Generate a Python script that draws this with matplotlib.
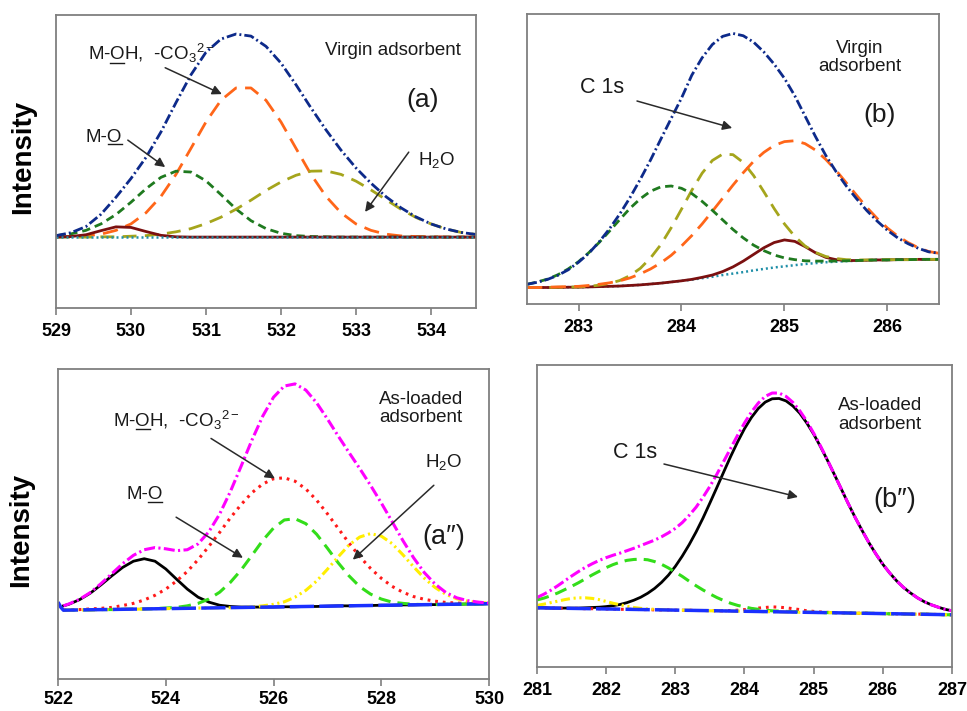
import numpy as np
import matplotlib
matplotlib.use('Agg')
import matplotlib.pyplot as plt
from matplotlib.lines import Line2D

plt.rcParams['font.family'] = ['Liberation Sans', 'DejaVu Sans']
plt.rcParams['mathtext.fontset'] = 'custom'
plt.rcParams['mathtext.rm'] = 'Liberation Sans'
plt.rcParams['mathtext.it'] = 'Liberation Sans:italic'
plt.rcParams['mathtext.bf'] = 'Liberation Sans:bold'

# intensities in arbitrary units (0-1000 full scale)
# (a) O 1s, virgin adsorbent
energy_a = np.round(np.arange(529.0, 534.61, 0.2), 2)
envelope_a = [247, 257, 278, 320, 378, 442, 514, 601, 701, 796, 873, 918, 935, 928, 893, 836, 762, 683, 608, 539,
              478, 426, 380, 342, 311, 287, 270, 258, 251]
orange_a = [243, 244, 246, 252, 265, 287, 325, 381, 456, 545, 635, 709, 751, 751, 709, 635, 545, 456, 381, 325,
            287, 265, 252, 246, 244, 243, 242, 242, 242]
green_a = [247, 253, 265, 287, 319, 361, 407, 446, 467, 464, 434, 387, 338, 298, 271, 255, 247, 244, 243, 242,
           242, 242, 242, 242, 242, 242, 242, 242, 242]
olive_a = [242, 242, 242, 243, 243, 245, 247, 252, 260, 271, 288, 310, 337, 368, 401, 430, 453, 467, 468, 456,
           433, 403, 370, 337, 309, 287, 270, 258, 251]
brown_a = [242, 244, 250, 264, 277, 275, 261, 248, 243, 242, 242, 242, 242, 242, 242, 242, 242, 242, 242, 242,
           242, 242, 242, 242, 242, 242, 242, 242, 242]
base_energy_a = [529.0, 534.6]
base_a = [242, 242]

# (b) C 1s, virgin adsorbent
energy_b = np.round(np.arange(282.5, 286.51, 0.1), 2)
envelope_b = [68, 75, 85, 99, 118, 144, 175, 214, 259, 310, 367, 430, 497, 569, 640, 710, 789, 849, 895, 923,
              933, 925, 903, 869, 827, 778, 718, 648, 578, 513, 457, 407, 363, 322, 286, 254, 228, 208, 192, 180,
              175]
green_b = [68, 76, 86, 101, 121, 146, 177, 212, 251, 291, 330, 363, 389, 404, 407, 399, 381, 354, 323, 290,
           257, 228, 203, 184, 169, 159, 153, 149, 148, 148, 148, 149, 150, 151, 152, 152, 153, 153, 154, 154,
           154]
olive_b = [57, 57, 57, 58, 58, 59, 61, 65, 71, 81, 98, 123, 159, 205, 263, 327, 392, 451, 495, 517,
           515, 488, 443, 387, 329, 276, 233, 200, 178, 164, 157, 153, 152, 152, 152, 153, 153, 153, 154, 154,
           154]
orange_b = [57, 57, 58, 59, 60, 61, 64, 68, 73, 80, 90, 104, 121, 142, 168, 200, 236, 276, 320, 365,
            410, 453, 492, 523, 547, 560, 563, 553, 531, 499, 461, 418, 375, 333, 295, 262, 234, 212, 194, 181,
            175]
brown_b = [57, 57, 57, 57, 58, 58, 59, 60, 61, 62, 64, 66, 69, 72, 76, 80, 85, 92, 100, 112,
           128, 148, 171, 194, 212, 221, 216, 198, 177, 161, 153, 150, 150, 151, 152, 152, 153, 153, 154, 154,
           154]
base_b = [57, 57, 57, 57, 58, 58, 59, 60, 61, 62, 64, 66, 69, 72, 76, 80, 84, 89, 94, 100,
          105, 110, 116, 121, 126, 130, 134, 138, 141, 144, 146, 148, 149, 151, 152, 152, 153, 153, 154, 154,
          154]

# (a'') O 1s, as-loaded adsorbent
energy_c = np.round(np.concatenate([[522.1], np.arange(522.2, 530.01, 0.2)]), 2)
envelope_c = [236, 242, 257, 279, 308, 340, 372, 399, 417, 424, 420, 414, 417, 436, 475, 532, 605, 687, 771, 848,
              909, 945, 952, 932, 891, 839, 784, 731, 679, 625, 568, 508, 447, 391, 343, 306, 279, 262, 253, 248,
              245]
black_c = [236, 241, 256, 277, 304, 333, 360, 380, 388, 380, 355, 322, 290, 264, 248, 238, 234, 232, 232, 232,
           232, 233, 233, 234, 234, 235, 236, 236, 237, 237, 238, 238, 239, 239, 240, 240, 241, 241, 242, 242,
           243]
red_c = [222, 223, 224, 226, 228, 231, 237, 244, 255, 270, 290, 316, 347, 385, 428, 473, 520, 563, 601, 629,
         646, 649, 638, 613, 577, 533, 486, 439, 395, 357, 325, 299, 280, 266, 257, 251, 247, 245, 244, 243,
         243]
green_c = [222, 222, 223, 223, 224, 224, 225, 226, 226, 227, 229, 231, 236, 244, 258, 280, 312, 352, 399, 447,
           487, 513, 517, 501, 467, 422, 375, 333, 298, 274, 258, 248, 244, 241, 240, 240, 241, 241, 242, 242,
           243]
yellow_c = [222, 222, 223, 223, 224, 224, 225, 225, 226, 227, 227, 228, 228, 229, 229, 230, 230, 231, 233, 236,
            241, 249, 264, 286, 316, 354, 394, 432, 458, 469, 461, 437, 401, 362, 325, 295, 273, 259, 251, 247,
            245]
base_energy_c = [522.0, 522.05, 522.1, 530.0]
base_c = [248, 232, 222, 243]

# (b'') C 1s, as-loaded adsorbent
energy_d = np.round(np.arange(281.0, 287.01, 0.1), 2)
envelope_d = [230, 241, 254, 269, 285, 301, 316, 330, 342, 353, 362, 370, 377, 385, 393, 402, 411, 420, 431, 444,
              459, 478, 502, 529, 562, 598, 638, 681, 724, 767, 808, 844, 874, 896, 907, 907, 896, 876, 848, 814,
              774, 731, 685, 637, 589, 541, 495, 452, 411, 374, 340, 311, 285, 263, 245, 229, 216, 206, 198, 191,
              186]
black_d = [196, 196, 195, 195, 195, 195, 195, 196, 197, 198, 200, 203, 207, 213, 221, 231, 244, 260, 280, 304,
           333, 367, 405, 447, 493, 543, 594, 646, 697, 745, 789, 826, 856, 877, 888, 889, 881, 864, 840, 808,
           771, 729, 684, 637, 589, 541, 495, 452, 411, 374, 340, 311, 285, 263, 245, 229, 216, 206, 198, 191,
           186]
green_d = [222, 228, 236, 245, 256, 267, 279, 292, 305, 317, 329, 339, 347, 353, 356, 357, 355, 349, 340, 328,
           314, 300, 284, 269, 255, 242, 230, 220, 211, 204, 199, 194, 191, 188, 186, 185, 184, 183, 182, 181,
           181, 180, 180, 180, 179, 179, 178, 178, 178, 177, 177, 176, 176, 176, 175, 175, 175, 174, 174, 173,
           173]
yellow_d = [204, 208, 213, 218, 223, 227, 229, 229, 227, 223, 217, 211, 206, 201, 197, 194, 192, 191, 190, 189,
            188, 188, 188, 187, 187, 186, 186, 186, 185, 185, 185, 184, 184, 183, 183, 183, 182, 182, 181, 181,
            181, 180, 180, 180, 179, 179, 178, 178, 178, 177, 177, 176, 176, 176, 175, 175, 175, 174, 174, 173,
            173]
red_d = [196, 196, 195, 195, 194, 194, 194, 193, 193, 193, 192, 192, 191, 191, 191, 190, 190, 189, 189, 189,
         188, 188, 188, 187, 187, 187, 186, 186, 187, 188, 190, 192, 195, 197, 199, 198, 196, 193, 190, 186,
         184, 182, 181, 180, 179, 179, 178, 178, 178, 177, 177, 176, 176, 176, 175, 175, 175, 174, 174, 173,
         173]
base_energy_d = [281.0, 287.0]
base_d = [196, 173]

TXT = '#1a1a1a'
ARROW = '#2a2a2a'
FRAME = '#7f7f7f'

fig = plt.figure(figsize=(9.67, 7.11), dpi=100)
ax_a = fig.add_axes([0.0579, 0.5668, 0.4343, 0.4121])
ax_b = fig.add_axes([0.5450, 0.5724, 0.4260, 0.4079])
ax_c = fig.add_axes([0.0600, 0.0450, 0.4457, 0.4360])
ax_d = fig.add_axes([0.5553, 0.0619, 0.4292, 0.4248])

dashdot = (0, (3.6, 1.1, 0.7, 1.1))

# (a)
ax_a.plot(energy_a, orange_a, color='#ff6619', lw=2, ls=(0, (5.5, 3)))
ax_a.plot(energy_a, green_a, color='#1f7a1f', lw=2, ls=(0, (3, 1.8)))
ax_a.plot(energy_a, olive_a, color='#a5a51c', lw=2, ls=(0, (5, 3)))
ax_a.plot(energy_a, brown_a, color='#7b1010', lw=2)
ax_a.plot(base_energy_a, base_a, color='#1f8fa8', lw=1.8, ls=(0, (0.8, 1.2)))
ax_a.plot(energy_a, envelope_a, color='#0d2a8a', lw=2, ls=dashdot)

# (b)
ax_b.plot(energy_b, base_b, color='#1f8fa8', lw=1.8, ls=(0, (0.8, 1.2)))
ax_b.plot(energy_b, brown_b, color='#7b1010', lw=2)
ax_b.plot(energy_b, olive_b, color='#a5a51c', lw=2, ls=(0, (5, 3)))
ax_b.plot(energy_b, orange_b, color='#ff6619', lw=2, ls=(0, (5.5, 3)))
ax_b.plot(energy_b, green_b, color='#1f7a1f', lw=2, ls=(0, (3, 1.8)))
ax_b.plot(energy_b, envelope_b, color='#0d2a8a', lw=2, ls=dashdot)

# (a'')
ax_c.plot(energy_c, black_c, color='black', lw=2)
ax_c.plot(energy_c, red_c, color='#ff1a1a', lw=2.2, ls=(0, (0.9, 1.6)))
ax_c.plot(energy_c, green_c, color='#33dd1a', lw=2.2, ls=(0, (4, 2.3)))
ax_c.plot(energy_c, yellow_c, color='#ffee00', lw=2.2, ls=(0, (3, 1.2, 0.7, 1.2, 0.7, 1.2)))
ax_c.plot(base_energy_c, base_c, color='#1a30ff', lw=2.5, ls=(0, (7, 1.5)))
ax_c.plot(energy_c, envelope_c, color='#ff00ff', lw=2.2, ls=dashdot)

# (b'')
ax_d.plot(energy_d, black_d, color='black', lw=2)
ax_d.plot(energy_d, red_d, color='#ff1a1a', lw=2.2, ls=(0, (0.9, 1.6)))
ax_d.plot(energy_d, green_d, color='#33dd1a', lw=2.2, ls=(0, (4, 2.3)))
ax_d.plot(energy_d, yellow_d, color='#ffee00', lw=2.2, ls=(0, (3, 1.2, 0.7, 1.2, 0.7, 1.2)))
ax_d.plot(base_energy_d, base_d, color='#1a30ff', lw=2.5, ls=(0, (7, 1.5)))
ax_d.plot(energy_d, envelope_d, color='#ff00ff', lw=2.2, ls=dashdot)

limits = {ax_a: (529, 534.6), ax_b: (282.5, 286.5), ax_c: (522, 530), ax_d: (281, 287)}
ticks = {ax_a: range(529, 535), ax_b: range(283, 287), ax_c: range(522, 531, 2), ax_d: range(281, 288)}
for ax in (ax_a, ax_b, ax_c, ax_d):
    ax.set_xlim(*limits[ax])
    ax.set_ylim(0, 1000)
    ax.set_xticks(list(ticks[ax]))
    ax.set_yticks([])
    for s in ax.spines.values():
        s.set_color(FRAME)
        s.set_linewidth(1.3)
    ax.tick_params(axis='x', direction='out', length=5, width=1.2, color=FRAME,
                   pad=3.5 if ax is ax_c else 6, labelsize=13, labelcolor='black')
    for lab in ax.get_xticklabels():
        lab.set_fontweight('bold')

fig.text(0.0238, 0.779, 'Intensity', rotation=90, fontsize=20, fontweight='bold', ha='center', va='center')
fig.text(0.0217, 0.2546, 'Intensity', rotation=90, fontsize=20, fontweight='bold', ha='center', va='center')


def note(ax, x, y, s, size=13.5, **kw):
    kw.setdefault('ha', 'left')
    kw.setdefault('va', 'center')
    ax.text(x, y, s, transform=ax.transAxes, fontsize=size, color=TXT, **kw)


def arrow(ax, tail, tip):
    ax.annotate('', xy=tip, xytext=tail, xycoords='axes fraction', textcoords='axes fraction',
                arrowprops=dict(arrowstyle='-|>', color=ARROW, lw=1.1, mutation_scale=14,
                                shrinkA=0, shrinkB=0))


underlines = []


def species(ax, x, y, head, mid, tail, size=13.5):
    ax.text(x, y, head + mid + tail, transform=ax.transAxes, fontsize=size, color=TXT,
            ha='left', va='baseline')
    underlines.append((ax, x, y, head, mid, size))


# (a)
species(ax_a, 0.076, 0.846, 'M-', 'O', 'H,  -CO$_3$$^{2-}$')
species(ax_a, 0.071, 0.567, 'M-', 'O', '')
note(ax_a, 0.640, 0.880, 'Virgin adsorbent')
note(ax_a, 0.862, 0.505, 'H$_2$O')
note(ax_a, 0.874, 0.710, '(a)', size=19, ha='center')
arrow(ax_a, (0.260, 0.820), (0.395, 0.730))
arrow(ax_a, (0.171, 0.573), (0.260, 0.481))
arrow(ax_a, (0.840, 0.532), (0.736, 0.328))

# (b)
note(ax_b, 0.808, 0.850, 'Virgin\nadsorbent', ha='center', multialignment='center', linespacing=1.1)
note(ax_b, 0.129, 0.748, 'C 1s', size=15.5)
note(ax_b, 0.856, 0.652, '(b)', size=19, ha='center')
arrow(ax_b, (0.267, 0.700), (0.498, 0.607))

# (a'')
species(ax_c, 0.128, 0.814, 'M-', 'O', 'H,  -CO$_3$$^{2-}$')
species(ax_c, 0.158, 0.580, 'M-', 'O', '')
note(ax_c, 0.842, 0.873, 'As-loaded\nadsorbent', ha='center', multialignment='center', linespacing=1.1)
note(ax_c, 0.852, 0.699, 'H$_2$O')
note(ax_c, 0.896, 0.458, '(a\u2033)', size=19.5, ha='center')
arrow(ax_c, (0.355, 0.776), (0.503, 0.647))
arrow(ax_c, (0.274, 0.522), (0.429, 0.391))
arrow(ax_c, (0.872, 0.625), (0.684, 0.385))

# (b'')
note(ax_d, 0.826, 0.834, 'As-loaded\nadsorbent', ha='center', multialignment='center', linespacing=1.1)
note(ax_d, 0.183, 0.709, 'C 1s', size=15.5)
note(ax_d, 0.862, 0.553, '(b\u2033)', size=19.5, ha='center')
arrow(ax_d, (0.306, 0.672), (0.629, 0.563))

# underline the O of the M-O species labels
fig.canvas.draw()
renderer = fig.canvas.get_renderer()
to_fig = fig.transFigure.inverted()
for ax, x, y, head, mid, size in underlines:
    t1 = ax.text(x, y, head, transform=ax.transAxes, fontsize=size, ha='left', va='baseline')
    t2 = ax.text(x, y, head + mid, transform=ax.transAxes, fontsize=size, ha='left', va='baseline')
    x1 = t1.get_window_extent(renderer).x1
    x2 = t2.get_window_extent(renderer).x1
    t1.remove()
    t2.remove()
    yb = ax.transAxes.transform((x, y))[1] - 2.5
    (fx1, fy), (fx2, _) = to_fig.transform([(x1 + 0.5, yb), (x2, yb)])
    fig.add_artist(Line2D([fx1, fx2], [fy, fy], color=TXT, lw=1.0))

fig.savefig('out.png', dpi=100)
